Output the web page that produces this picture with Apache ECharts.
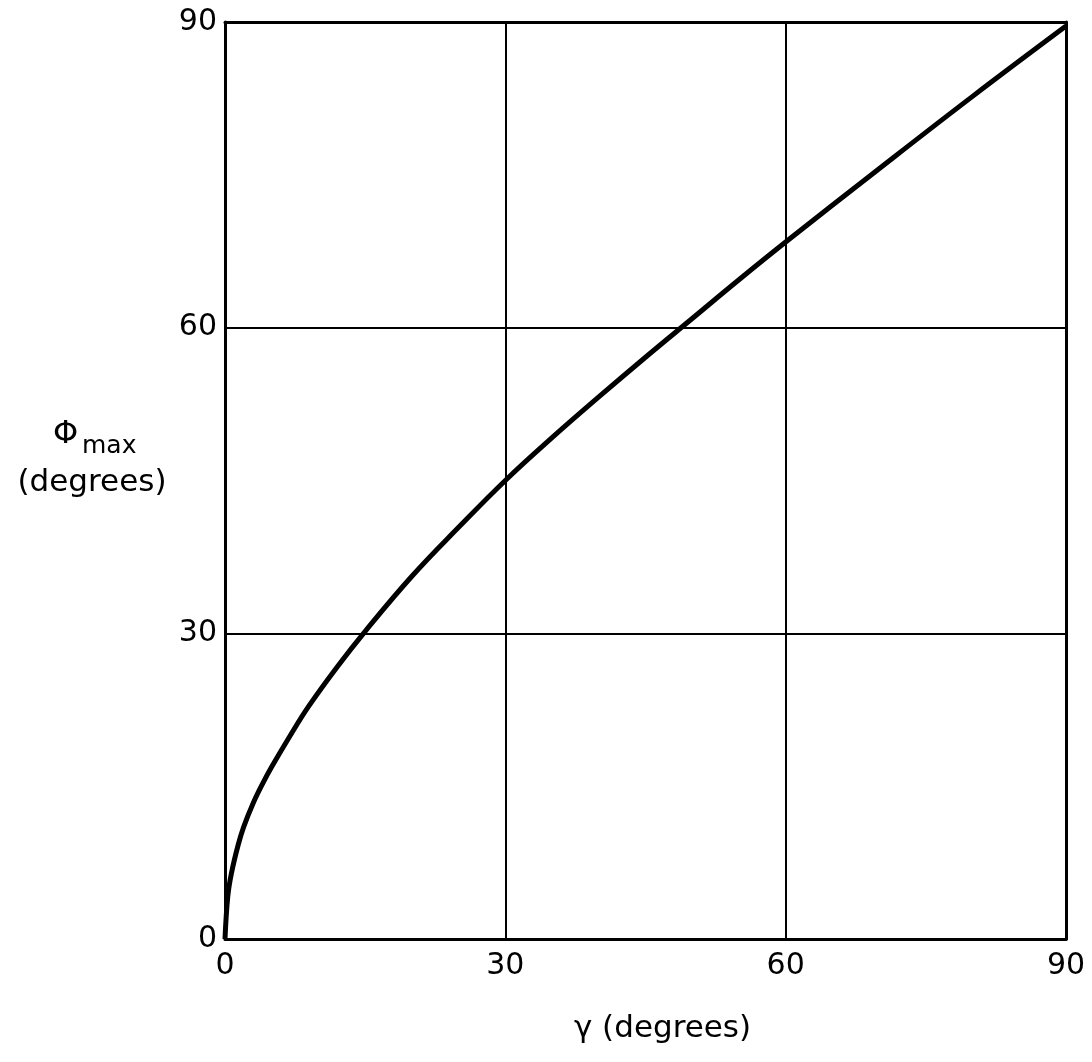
<!DOCTYPE html>
<html>
<head>
<meta charset="utf-8">
<script src="https://cdn.jsdelivr.net/npm/echarts@6/dist/echarts.min.js"></script>
<style>html,body{margin:0;padding:0;background:#fff}#c{width:1092px;height:1062px}</style>
</head>
<body>
<div id="c"></div>
<script>
// gamma (degrees)
const gammaValues = [0, 0.3, 0.7, 1.4, 2, 3, 4, 5, 7, 9, 12, 15, 20, 25, 30, 35, 40, 45, 50, 55, 60, 70, 80, 90];
// Phi_max (degrees)
const phiMaxValues = [0, 4.2, 6.5, 9.2, 11.0, 13.3, 15.2, 16.9, 20.0, 22.9, 26.7, 30.2, 35.6, 40.4, 45, 49.2, 53.2, 57.1, 60.9, 64.7, 68.4, 75.6, 82.7, 89.6];
const xTicks = [0, 30, 60, 90];
const yTicks = [0, 30, 60, 90];
const xTitle = 'γ (degrees)';
const yTitleSymbol = 'Φ';
const yTitleSub = 'max';
const yTitleUnit = '(degrees)';

const data = gammaValues.map((g, i) => [g, phiMaxValues[i]]);
const font = 'DejaVu Sans';
const chart = echarts.init(document.getElementById('c'));
chart.setOption({
  backgroundColor: '#fff',
  animation: false,
  grid: { left: 225, right: 26, top: 22, bottom: 123 },
  xAxis: [{
    type: 'value', min: 0, max: 90, interval: 30,
    axisLine: { show: true, lineStyle: { color: '#000', width: 3 } },
    axisTick: { show: false },
    axisLabel: { color: '#000', fontSize: 30, fontFamily: font, margin: 12,
      formatter: v => xTicks.includes(v) ? String(v) : '' },
    splitLine: { show: true, lineStyle: { color: '#000', width: 2 } },
    name: xTitle, nameLocation: 'middle', nameGap: 74,
    nameTextStyle: { color: '#000', fontSize: 31, fontFamily: font, padding: [0, 0, 0, 34] }
  }, {
    type: 'value', min: 0, max: 90, position: 'top',
    axisLine: { show: true, onZero: false, lineStyle: { color: '#000', width: 3 } },
    axisTick: { show: false }, axisLabel: { show: false }, splitLine: { show: false }
  }],
  yAxis: [{
    type: 'value', min: 0, max: 90, interval: 30,
    axisLine: { show: true, lineStyle: { color: '#000', width: 3 } },
    axisTick: { show: false },
    axisLabel: { color: '#000', fontSize: 30, fontFamily: font, margin: 8,
      formatter: v => yTicks.includes(v) ? String(v) : '' },
    splitLine: { show: true, lineStyle: { color: '#000', width: 2 } }
  }, {
    type: 'value', min: 0, max: 90, position: 'right',
    axisLine: { show: true, onZero: false, lineStyle: { color: '#000', width: 3 } },
    axisTick: { show: false }, axisLabel: { show: false }, splitLine: { show: false }
  }],
  graphic: [{
    type: 'text', x: 53, y: 435,
    style: { text: yTitleSymbol, fontSize: 32, fontFamily: font, fill: '#000', align: 'left', verticalAlign: 'middle' }
  }, {
    type: 'text', x: 82, y: 446,
    style: { text: yTitleSub, fontSize: 25, fontFamily: font, fill: '#000', align: 'left', verticalAlign: 'middle' }
  }, {
    type: 'text', x: 92, y: 483,
    style: { text: yTitleUnit, fontSize: 31, fontFamily: font, fill: '#000', align: 'center', verticalAlign: 'middle' }
  }],
  series: [{
    type: 'line', xAxisIndex: 0, yAxisIndex: 0, data: data,
    smooth: 0.4, showSymbol: false,
    lineStyle: { color: '#000', width: 5 }
  }]
});
</script>
</body>
</html>
